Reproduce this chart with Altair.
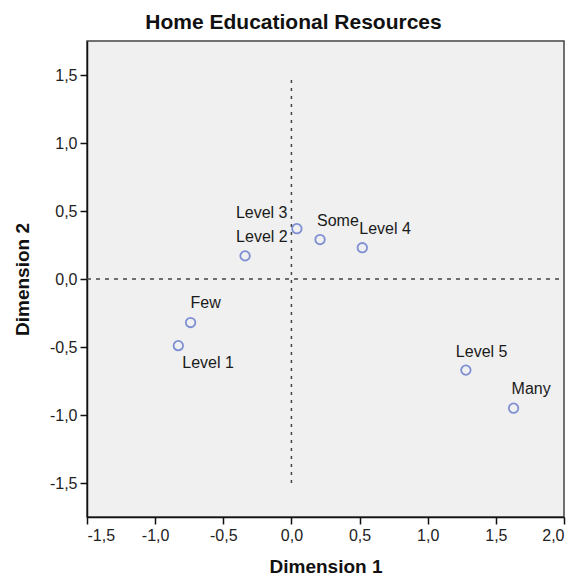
import altair as alt
import pandas as pd

labels = ["Level 1", "Level 2", "Level 3", "Level 4", "Level 5", "Few", "Some", "Many"]
dim1 = [-0.83, -0.34, 0.04, 0.52, 1.28, -0.74, 0.21, 1.63]
dim2 = [-0.49, 0.17, 0.37, 0.23, -0.67, -0.32, 0.29, -0.95]
x_ticks = [-1.5, -1.0, -0.5, 0.0, 0.5, 1.0, 1.5, 2.0]
y_ticks = [-1.5, -1.0, -0.5, 0.0, 0.5, 1.0, 1.5]

df = pd.DataFrame({"label": labels, "d1": dim1, "d2": dim2})

# label offsets in pixels (dx, dy) relative to the point
offsets = {
    "Level 1": (4, 17),
    "Level 2": (-9, -19),
    "Level 3": (-61, -16),
    "Level 4": (-3, -19),
    "Level 5": (-10, -18),
    "Few": (0, -20),
    "Some": (-3, -19),
    "Many": (-2, -19),
}

FONT = "Liberation Sans"
lab_expr = "(datum.value < 0 ? '-' : '') + replace(format(abs(datum.value), '.1f'), '.', ',')"

xs = alt.Scale(domain=[-1.5, 2.0], nice=False, zero=False)
ys = alt.Scale(domain=[-1.75, 1.75], nice=False, zero=False)

xenc = alt.X("d1:Q", scale=xs, title="Dimension 1",
             axis=alt.Axis(values=x_ticks, labelExpr=lab_expr, grid=False))
yenc = alt.Y("d2:Q", scale=ys, title="Dimension 2",
             axis=alt.Axis(values=y_ticks, labelExpr=lab_expr, grid=False))

base = alt.Chart(df)

vline = alt.Chart(pd.DataFrame({"d1": [0.0], "d2": [-1.5], "d2b": [1.5]})).mark_rule(
    color="#444", strokeDash=[3, 5], strokeWidth=1.5
).encode(x=alt.X("d1:Q", scale=xs), y=alt.Y("d2:Q", scale=ys), y2="d2b:Q")

hline = alt.Chart(pd.DataFrame({"d2": [0.0], "d1": [-1.5], "d1b": [2.0]})).mark_rule(
    color="#444", strokeDash=[4, 5], strokeWidth=1.5
).encode(y=alt.Y("d2:Q", scale=ys), x=alt.X("d1:Q", scale=xs), x2="d1b:Q")

points = base.mark_point(shape="circle", filled=False, size=90, stroke="#4f68c8",
                         strokeWidth=1.8).encode(x=xenc, y=yenc)

text_layers = []
for name, (dx, dy) in offsets.items():
    text_layers.append(
        base.transform_filter(alt.datum.label == name).mark_text(
            align="left", baseline="middle", dx=dx, dy=dy, font=FONT,
            fontSize=16, color="#1a1a1a"
        ).encode(x=alt.X("d1:Q", scale=xs), y=alt.Y("d2:Q", scale=ys), text="label:N")
    )

chart = alt.layer(hline, vline, points, *text_layers).properties(
    width=477, height=476,
    title=alt.TitleParams("Home Educational Resources", font=FONT, fontSize=21,
                          fontWeight="bold", color="#111", anchor="middle", dx=-32, offset=8),
    autosize=alt.AutoSizeParams(type="none"),
    padding={"left": 79, "top": 33, "right": 3, "bottom": 59},
).configure_view(
    fill="#f0f0f0", stroke="#444", strokeWidth=1.5
).configure_axis(
    labelFont=FONT, labelFontSize=16, labelColor="#222",
    titleFont=FONT, titleFontSize=19, titleFontWeight="bold", titleColor="#111",
    domainColor="#111", domainWidth=1.5, tickColor="#111", tickWidth=1.5, tickSize=7,
    labelPadding=3,
).configure_axisX(titlePadding=14).configure_axisY(titlePadding=17)

chart.save("out.html", embed_options={"renderer": "svg", "actions": False})
